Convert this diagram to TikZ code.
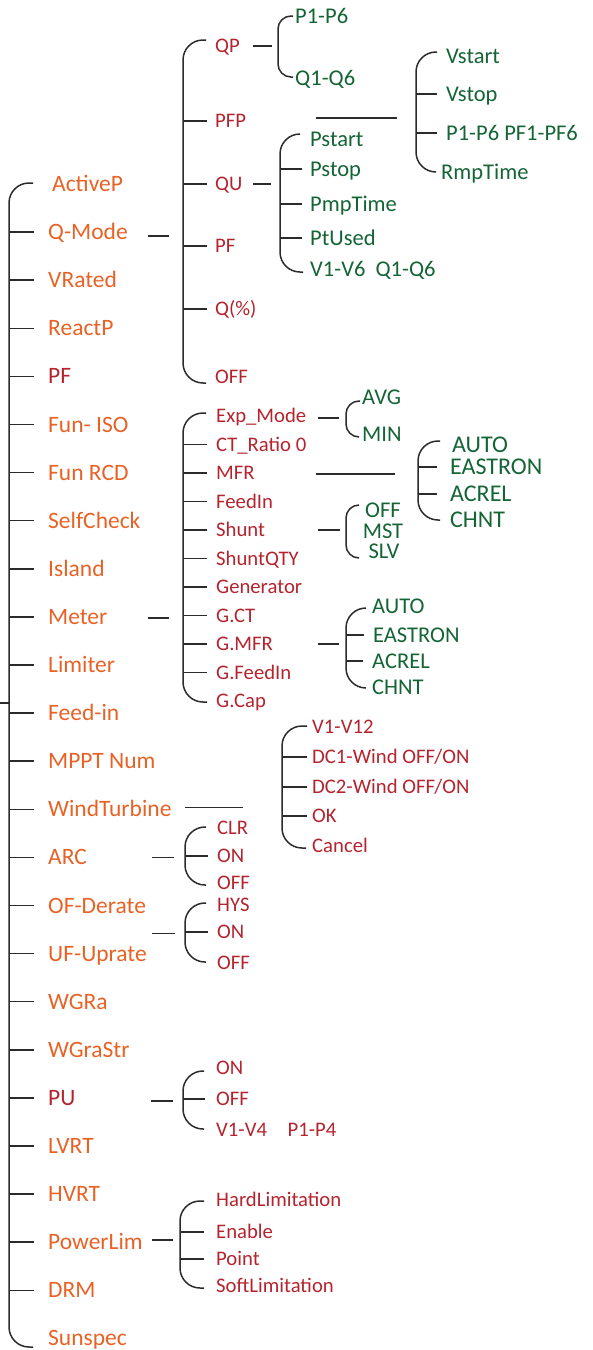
\documentclass[tikz,border=0pt]{standalone}
\usepackage{fontspec}
\setmainfont{Carlito}
\usetikzlibrary{calc}
\definecolor{menuorange}{RGB}{232,98,38}
\definecolor{menured}{RGB}{180,36,46}
\definecolor{menugreen}{RGB}{20,100,54}
\definecolor{menuline}{RGB}{45,42,42}

\begin{document}
\begin{tikzpicture}[
    x=1pt, y=-1pt,
    top/.style={anchor=west, inner sep=0pt, text=menuorange, font=\fontsize{23.5}{26}\selectfont, text height=15pt, text depth=0pt},
    sub/.style={anchor=west, inner sep=0pt, text=menured, font=\fontsize{20.7}{24}\selectfont, text height=13.3pt, text depth=0pt},
    leaf/.style={anchor=west, inner sep=0pt, text=menugreen, font=\fontsize{22.5}{25}\selectfont, text height=14.5pt, text depth=0pt},
    leafbig/.style={leaf, font=\fontsize{24}{26}\selectfont, text height=15.4pt},
    link/.style={draw=menuline, line width=1.5pt},
    brace/.style={link, rounded corners=20pt},
    smallbrace/.style={link, rounded corners=13pt}
]
    \useasboundingbox (0,0) rectangle (593,1350);

    % main menu
    \node[top] (activep) at (52,184) {ActiveP};
    \foreach \nm/\txt/\col [count=\i from 1] in {qmode/Q-Mode/menuorange, vrated/VRated/menuorange,
        reactp/ReactP/menuorange, pfmain/PF/menured, funiso/Fun- ISO/menuorange, funrcd/Fun RCD/menuorange,
        selfcheck/SelfCheck/menuorange, island/Island/menuorange, meter/Meter/menuorange,
        limiter/Limiter/menuorange, feedin/Feed-in/menuorange, mppt/MPPT Num/menuorange,
        wind/WindTurbine/menuorange, arc/ARC/menuorange, ofderate/OF-Derate/menuorange,
        ufuprate/UF-Uprate/menuorange, wgra/WGRa/menuorange, wgrastr/WGraStr/menuorange,
        pu/PU/menured, lvrt/LVRT/menuorange, hvrt/HVRT/menuorange, powerlim/PowerLim/menuorange,
        drm/DRM/menuorange, sunspec/Sunspec/menuorange}
        \node[top, text=\col] (\nm) at (48,184+48.1*\i) {\txt};

    \coordinate (trunk) at (9,0);
    \coordinate (root) at (0,703);
    \draw[brace] (33,183) -| (9,1347) -- (33,1347);
    \draw[link] (root) -- (root -| trunk);
    \foreach \nm in {qmode,vrated,reactp,pfmain,funiso,funrcd,selfcheck,island,meter,limiter,
        feedin,mppt,wind,arc,ofderate,ufuprate,wgra,wgrastr,pu,lvrt,hvrt,powerlim,drm}
        \draw[link] (\nm.west -| trunk) -- ++(25,0);

    % Q-Mode
    \foreach \nm/\txt/\yy in {qp/QP/46, pfp/PFP/121, qu/QU/184, pfq/PF/246, qpct/Q(\%)/309, qoff/OFF/377}
        \node[sub] (\nm) at (215,\yy) {\txt};
    \coordinate (qspine) at (183,0);
    \draw[link] (qmode.west) ++(100,4) -- ++(21,0);
    \draw[brace] (206,40) -| (183,383) -- (206,383);
    \foreach \nm in {pfp,qu,pfq,qpct}
        \draw[link] (\nm.west -| qspine) -- ([xshift=-8pt]\nm.west);

    % QP
    \node[leaf] (p16) at (295,16) {P1-P6};
    \node[leaf] (q16) at (295,78) {Q1-Q6};
    \draw[link] (qp.west) ++(38,0) -- ++(19,0);
    \draw[smallbrace] (293,16) -| (278,77) -- (293,77);

    % QU
    \foreach \nm/\txt/\yy in {pstart/Pstart/139, pstop/Pstop/169, pmptime/PmpTime/204,
        ptused/PtUsed/238, vq/V1-V6\ \ Q1-Q6/269}
        \node[leaf] (\nm) at (310,\yy) {\txt};
    \coordinate (uspine) at (280,0);
    \draw[link] (qu.west) ++(38,0) -- ++(18,0);
    \draw[brace] (300,134) -| (280,272) -- (303,272);
    \foreach \nm in {pstop,pmptime,ptused}
        \draw[link] (\nm.west -| uspine) -- ([xshift=-8pt]\nm.west);

    % PFP
    \node[leaf] (vstart) at (446,56) {Vstart};
    \node[leaf] (vstop) at (446,94) {Vstop};
    \node[leaf] (ppf) at (446,133) {P1-P6 PF1-PF6};
    \node[leaf] (rmptime) at (441,172) {RmpTime};
    \coordinate (fspine) at (416,0);
    \draw[link] (pfp.west) ++(101,-3) -- ++(81,0);
    \draw[brace] (437,52) -| (416,172) -- (436,172);
    \foreach \nm in {vstop,ppf}
        \draw[link] (\nm.west -| fspine) -- ([xshift=-9pt]\nm.west);

    % Meter
    \foreach \nm/\txt [count=\i from 0] in {expmode/Exp\_Mode, ctratio/CT\_Ratio 0, mfr/MFR,
        feedinm/FeedIn, shunt/Shunt, shuntqty/ShuntQTY, generator/Generator, gct/G.CT,
        gmfr/G.MFR, gfeedin/G.FeedIn, gcap/G.Cap}
        \node[sub] (\nm) at (216,416+28.5*\i) {\txt};
    \coordinate (mspine) at (183,0);
    \draw[link] (meter.west) ++(100,1) -- ++(21,0);
    \draw[brace] (206,413) -| (183,702) -- (207,702);
    \foreach \nm in {ctratio,mfr,feedinm,shunt,shuntqty,generator,gct,gmfr,gfeedin}
        \draw[link] (\nm.west -| mspine) -- ([xshift=-9pt]\nm.west);

    % Exp_Mode
    \node[leaf] (avg) at (362,397) {AVG};
    \node[leaf] (minv) at (362,434) {MIN};
    \draw[link] (expmode.west) ++(102,2) -- ++(21,0);
    \draw[smallbrace] (360,401) -| (346,437) -- (359,437);

    % MFR
    \node[leafbig] (mauto) at (452,445) {AUTO};
    \node[leafbig] (meastron) at (450,467) {EASTRON};
    \node[leafbig] (macrel) at (450,494) {ACREL};
    \node[leafbig] (mchnt) at (450,520) {CHNT};
    \coordinate (rspine) at (418,0);
    \draw[link] (mfr.west) ++(100,1) -- ++(79,0);
    \draw[brace] (440,441) -| (418,520) -- (440,520);
    \foreach \nm in {meastron,macrel}
        \draw[link] (\nm.west -| rspine) -- ([xshift=-13pt]\nm.west);

    % Shunt
    \node[leaf, anchor=center] (soff) at (383,510) {OFF};
    \node[leaf, anchor=center] (smst) at (383,531) {MST};
    \node[leaf, anchor=center] (sslv) at (384,551) {SLV};
    \draw[link] (shunt.west) ++(102,0) -- ++(22,0);
    \draw[smallbrace] (359,505) -| (346,558) -- (359,558);

    % G.MFR
    \node[leaf] (gauto) at (372,606) {AUTO};
    \node[leaf] (geastron) at (373,635) {EASTRON};
    \node[leaf] (gacrel) at (372,661) {ACREL};
    \node[leaf] (gchnt) at (372,687) {CHNT};
    \coordinate (gspine) at (346,0);
    \draw[link] (gmfr.west) ++(102,0) -- ++(21,0);
    \draw[brace] (366,608) -| (346,688) -- (366,688);
    \foreach \nm in {geastron,gacrel}
        \draw[link] (\nm.west -| gspine) -- ([xshift=-9pt]\nm.west);

    % WindTurbine
    \foreach \nm/\txt/\yy in {v112/V1-V12/727, dcone/{DC1-Wind OFF/ON}/757, dctwo/{DC2-Wind OFF/ON}/787,
        wok/OK/816, wcancel/Cancel/846}
        \node[sub] (\nm) at (312,\yy) {\txt};
    \coordinate (wspine) at (282,0);
    \draw[link] (wind.west) ++(137,-2) -- ++(58,0);
    \draw[brace] (307,726) -| (282,848) -- (306,848);
    \foreach \nm in {dcone,dctwo,wok}
        \draw[link] (\nm.west -| wspine) -- ([xshift=-5pt]\nm.west);

    % ARC
    \node[sub] (aclr) at (217,828) {CLR};
    \node[sub] (aon) at (217,856) {ON};
    \node[sub] (aoff) at (217,883) {OFF};
    \coordinate (aspine) at (185,0);
    \draw[link] (arc.west) ++(104,0) -- ++(22,0);
    \draw[brace] (206,827) -| (185,885) -- (206,885);
    \draw[link] (aon.west -| aspine) -- ([xshift=-9pt]aon.west);

    % OF-Derate / UF-Uprate
    \node[sub] (fhys) at (217,905) {HYS};
    \node[sub] (fon) at (217,932) {ON};
    \node[sub] (foff) at (217,963) {OFF};
    \draw[link] (ofderate.west) ++(104,28) -- ++(23,0);
    \draw[brace] (206,903) -| (185,962) -- (206,962);
    \draw[link] (fon.west -| aspine) -- ([xshift=-9pt]fon.west);

    % PU
    \node[sub] (puon) at (216,1068) {ON};
    \node[sub] (puoff) at (216,1099) {OFF};
    \node[sub] (puvp) at (216,1130) {V1-V4\quad P1-P4};
    \coordinate (uuspine) at (183,0);
    \draw[link] (pu.west) ++(103,3) -- ++(22,0);
    \draw[brace] (204,1071) -| (183,1129) -- (204,1129);
    \draw[link] (puoff.west -| uuspine) -- ([xshift=-11pt]puoff.west);

    % PowerLim
    \foreach \nm/\txt/\yy in {hardlim/HardLimitation/1200, enable/Enable/1232, point/Point/1259,
        softlim/SoftLimitation/1286}
        \node[sub] (\nm) at (216,\yy) {\txt};
    \coordinate (pspine) at (180,0);
    \draw[link] (powerlim.west) ++(104,-2) -- ++(21,0);
    \draw[brace] (204,1201) -| (180,1288) -- (204,1288);
    \foreach \nm in {enable,point}
        \draw[link] (\nm.west -| pspine) -- ([xshift=-12pt]\nm.west);
\end{tikzpicture}
\end{document}
